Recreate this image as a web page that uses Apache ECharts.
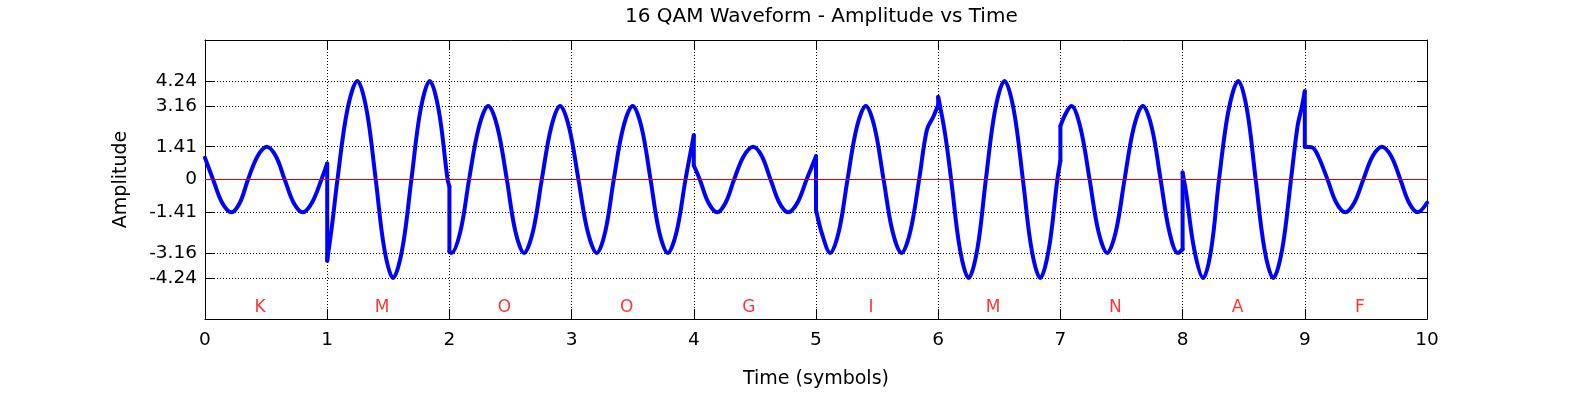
<!DOCTYPE html>
<html><head><meta charset="utf-8">
<script src="https://cdn.jsdelivr.net/npm/echarts@6/dist/echarts.min.js"></script>
<style>html,body{margin:0;padding:0;background:#fff}#c{width:1577px;height:394px}</style>
</head><body><div id="c"></div>
<script>
// ---- data ----
const symbolLetters = ['K','M','O','O','G','I','M','N','A','F'];
const xTicks = [0,1,2,3,4,5,6,7,8,9,10];
const yTicks = [-4.24,-3.16,-1.41,0,1.41,3.16,4.24];

const segK = [[0,0.93],[0.066,0],[0.14,-1.0],[0.216,-1.41],[0.285,-1.0],[0.352,0],[0.43,1.0],[0.505,1.41],[0.58,1.0],[0.652,0],[0.725,-1.0],[0.8,-1.41],[0.875,-1.0],[0.953,0],[1,0.69]];
const segM1 = [[1,-3.49],[1.04,-1.95],[1.084,0],[1.165,3.0],[1.247,4.24],[1.322,3.0],[1.397,0],[1.468,-3.0],[1.539,-4.24],[1.614,-3.0],[1.689,0],[1.764,3.0],[1.839,4.24],[1.912,3.0],[1.985,0],[2,-0.3]];
const segO = [[2,-3.1],[2.016,-3.16],[2.09,-2.23],[2.161,0],[2.24,2.23],[2.318,3.16],[2.394,2.23],[2.47,0],[2.54,-2.23],[2.611,-3.16],[2.684,-2.23],[2.756,0],[2.832,2.23],[2.906,3.16],[2.98,2.23],[3.056,0],[3.131,-2.23],[3.206,-3.16],[3.276,-2.23],[3.345,0],[3.422,2.23],[3.5,3.16],[3.573,2.23],[3.646,0],[3.716,-2.23],[3.787,-3.16],[3.86,-2.23],[3.932,0],[4,1.9]];
const segG = [[4,0.6],[4.049,0],[4.12,-1.0],[4.191,-1.41],[4.26,-1.0],[4.33,0],[4.408,1.0],[4.486,1.41],[4.557,1.0],[4.628,0],[4.7,-1.0],[4.772,-1.41],[4.848,-1.0],[4.923,0],[5,1.0]];
const segI = [[5,-1.3],[5.05,-2.35],[5.116,-3.16],[5.187,-2.23],[5.258,0],[5.333,2.23],[5.408,3.16],[5.48,2.23],[5.553,0],[5.626,-2.23],[5.7,-3.16],[5.772,-2.23],[5.844,0],[5.907,2.13],[5.96,2.7],[6,3.2]];
const segM2 = [[6,3.55],[6.055,2.0],[6.106,0],[6.178,-3.0],[6.249,-4.24],[6.32,-3.0],[6.39,0],[6.466,3.0],[6.543,4.24],[6.618,3.0],[6.693,0],[6.764,-3.0],[6.835,-4.24],[6.905,-3.0],[6.975,0],[7,0.8]];
const segN = [[7,2.3],[7.045,2.85],[7.089,3.16],[7.164,2.23],[7.239,0],[7.311,-2.23],[7.383,-3.16],[7.454,-2.23],[7.525,0],[7.6,2.23],[7.675,3.16],[7.748,2.23],[7.82,0],[7.891,-2.23],[7.962,-3.16],[8,-3.0]];
const segA = [[8,0.3],[8.03,-0.6],[8.095,-3.0],[8.169,-4.24],[8.234,-3.0],[8.298,0],[8.377,3.0],[8.456,4.24],[8.527,3.0],[8.598,0],[8.67,-3.0],[8.742,-4.24],[8.815,-3.0],[8.887,0],[8.94,2.27],[8.975,3.1],[9,3.8]];
const segF = [[9,1.41],[9.06,1.38],[9.11,1.0],[9.186,0],[9.258,-1.0],[9.331,-1.41],[9.405,-1.0],[9.479,0],[9.555,1.0],[9.632,1.41],[9.707,1.0],[9.782,0],[9.853,-1.0],[9.924,-1.41],[10,-1.0]];

const segments = [segK, segM1, segO, segG, segI, segM2, segN, segA, segF];

// ---- chart ----
const FONT = 'DejaVu Sans';
const BLUE = '#0000ff';
const lineStyle = {color: BLUE, width: 4, cap: 'round', join: 'round'};

const series = [];
// dotted horizontal grid lines at the non-zero tick values
series.push({
  type: 'line', data: [], z: 1, silent: true,
  markLine: {
    silent: true, symbol: ['none','none'], animation: false,
    label: {show: false},
    lineStyle: {color: '#000', width: 1, type: [1, 2]},
    data: yTicks.filter(v => v !== 0).map(v => ({yAxis: v}))
  }
});
segments.forEach(seg => {
  series.push({
    type: 'line', data: seg, smooth: 0.35, showSymbol: false, z: 3,
    lineStyle: lineStyle, itemStyle: {color: BLUE}
  });
});
for (let i = 0; i < segments.length - 1; i++) {
  const a = segments[i], b = segments[i + 1];
  series.push({
    type: 'line', data: [a[a.length - 1], b[0]], showSymbol: false, z: 3,
    lineStyle: lineStyle, itemStyle: {color: BLUE}
  });
}
// red zero line
series.push({
  type: 'line', data: [], z: 5, silent: true,
  markLine: {
    silent: true, symbol: ['none','none'], animation: false,
    label: {show: false},
    lineStyle: {color: '#e00000', width: 1.2, type: 'solid', opacity: 1},
    data: [{yAxis: 0}]
  }
});
// symbol letters
series.push({
  type: 'scatter', z: 6, symbolSize: 1, itemStyle: {color: 'rgba(0,0,0,0)'},
  data: symbolLetters.map((s, i) => [xTicks[i] + 0.45, -5.5, s]),
  label: {show: true, position: 'inside', formatter: p => p.data[2],
          color: '#ff0000', fontSize: 17, fontFamily: FONT}
});

const axisLineBlack = {show: true, onZero: false, lineStyle: {color: '#000', width: 1}};
const tickIn = {show: true, inside: true, length: 10, lineStyle: {color: '#000', width: 1}};

const option = {
  animation: false,
  backgroundColor: '#fff',
  title: {
    text: '16 QAM Waveform - Amplitude vs Time',
    left: 620, top: 2,
    textStyle: {fontFamily: FONT, fontSize: 20, fontWeight: 'normal', color: '#000'}
  },
  grid: {left: 205, right: 150, top: 40, bottom: 73, containLabel: false},
  xAxis: [
    {
      type: 'value', min: 0, max: 10, interval: 1, position: 'bottom',
      axisLine: axisLineBlack, axisTick: tickIn,
      axisLabel: {margin: 12, fontSize: 18.5, color: '#000', fontFamily: FONT},
      splitLine: {show: true, lineStyle: {color: '#000', width: 1, type: [1, 2]}},
      name: 'Time (symbols)', nameLocation: 'middle', nameGap: 51,
      nameTextStyle: {fontFamily: FONT, fontSize: 19, color: '#000'}
    },
    {
      type: 'value', min: 0, max: 10, interval: 1, position: 'top',
      axisLine: axisLineBlack, axisTick: tickIn,
      axisLabel: {show: false}, splitLine: {show: false}
    }
  ],
  yAxis: [
    {
      type: 'value', min: -6, max: 6, position: 'left',
      axisLine: axisLineBlack,
      axisTick: Object.assign({customValues: yTicks}, tickIn),
      axisLabel: {customValues: yTicks, margin: 8, fontSize: 18.5, color: '#000', fontFamily: FONT},
      splitLine: {show: false},
      name: 'Amplitude', nameLocation: 'middle', nameGap: 74,
      nameTextStyle: {fontFamily: FONT, fontSize: 19, color: '#000'}
    },
    {
      type: 'value', min: -6, max: 6, position: 'right',
      axisLine: axisLineBlack,
      axisTick: Object.assign({customValues: yTicks}, tickIn),
      axisLabel: {show: false}, splitLine: {show: false}
    }
  ],
  series: series
};

const chart = echarts.init(document.getElementById('c'), null, {renderer: 'canvas'});
chart.setOption(option);
</script>
</body></html>
